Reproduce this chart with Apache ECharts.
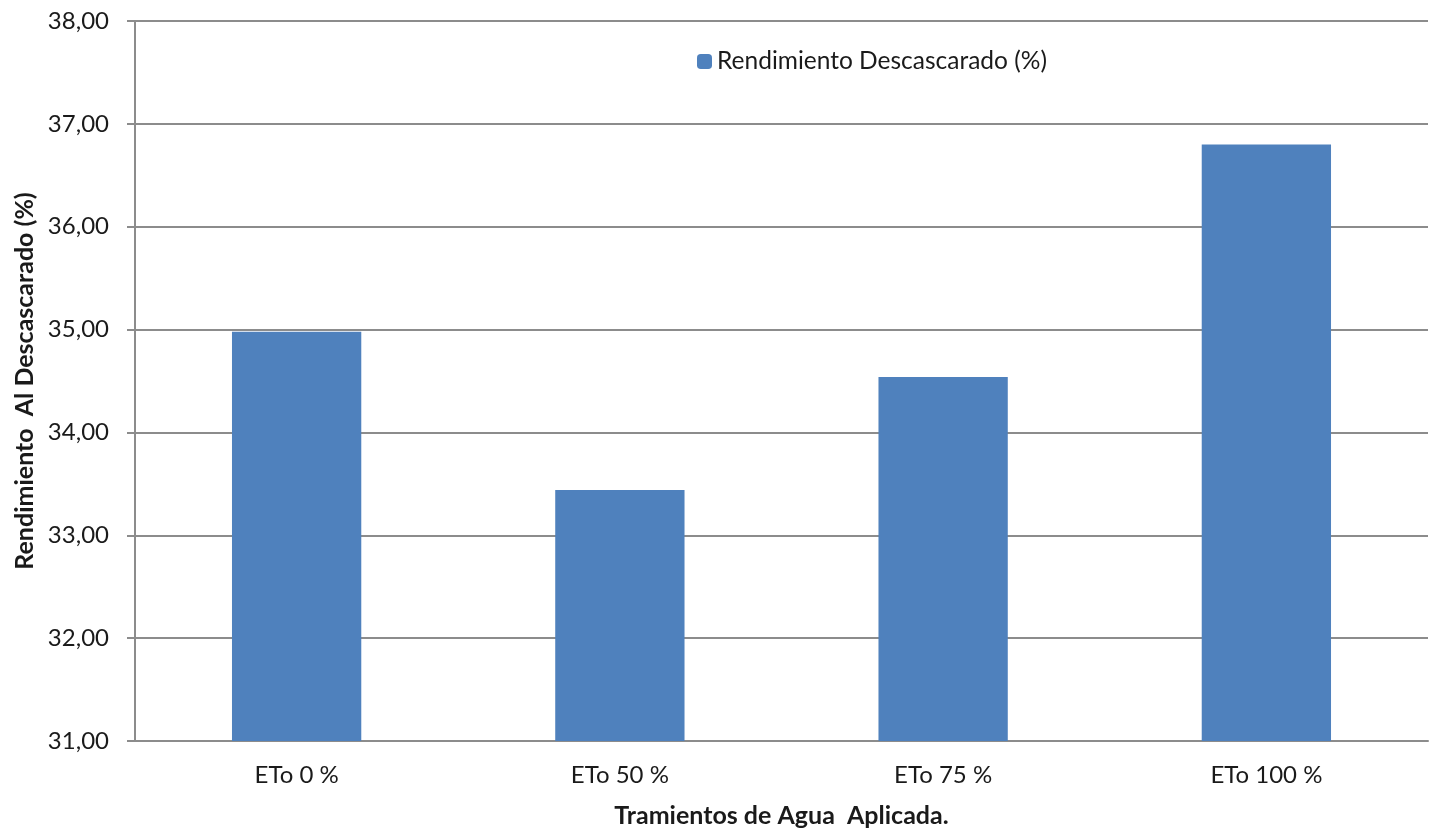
<!DOCTYPE html>
<html>
<head>
<meta charset="utf-8">
<script src="https://cdn.jsdelivr.net/npm/echarts@6/dist/echarts.min.js"></script>
<style>
  html, body { margin: 0; padding: 0; background: #fff; }
  #chart { width: 1430px; height: 832px; }
</style>
</head>
<body>
<div id="chart"></div>
<script>
// Treatments of applied water and hulling yield
const categories = ['ETo 0 %', 'ETo 50 %', 'ETo 75 %', 'ETo 100 %'];
const yieldValues = [34.98, 33.44, 34.54, 36.80];
const seriesName = 'Rendimiento Descascarado (%)';
const yAxisTitle = 'Rendimiento  Al Descascarado (%)';
const xAxisTitle = 'Tramientos de Agua  Aplicada.';

const font = 'Lato, "Open Sans", sans-serif';
const chart = echarts.init(document.getElementById('chart'));

chart.setOption({
  animation: false,
  backgroundColor: '#ffffff',
  grid: { left: 135, right: 2, top: 21, bottom: 91, outerBoundsMode: 'none', containLabel: false },
  legend: {
    data: [seriesName],
    left: 692,
    top: 44,
    itemWidth: 15,
    itemHeight: 15,
    itemGap: 6,
    textStyle: { fontFamily: font, fontSize: 24.5, color: '#1a1a1a' }
  },
  xAxis: {
    type: 'category',
    data: categories,
    name: xAxisTitle,
    nameLocation: 'middle',
    nameGap: 62,
    nameTextStyle: { fontFamily: font, fontSize: 25, fontWeight: 'bold', color: '#1a1a1a' },
    axisLine: { lineStyle: { color: '#8c8c8c', width: 2 } },
    axisTick: { show: false },
    axisLabel: { fontFamily: font, fontSize: 24, color: '#1a1a1a', margin: 22 }
  },
  yAxis: {
    type: 'value',
    min: 31,
    max: 38,
    interval: 1,
    name: yAxisTitle,
    nameLocation: 'middle',
    nameGap: 96,
    nameTextStyle: { fontFamily: font, fontSize: 25, fontWeight: 'bold', color: '#1a1a1a' },
    axisLine: { show: true, lineStyle: { color: '#8c8c8c', width: 2 } },
    axisTick: { show: true, length: 8, lineStyle: { color: '#8c8c8c', width: 2 } },
    axisLabel: {
      fontFamily: font, fontSize: 24, color: '#1a1a1a', margin: 26,
      formatter: v => v.toFixed(2).replace('.', ',')
    },
    splitLine: { lineStyle: { color: '#8c8c8c', width: 2 } }
  },
  series: [{
    name: seriesName,
    type: 'bar',
    data: yieldValues,
    barWidth: '40%',
    itemStyle: { color: '#4f81bd' }
  }]
});
</script>
</body>
</html>
